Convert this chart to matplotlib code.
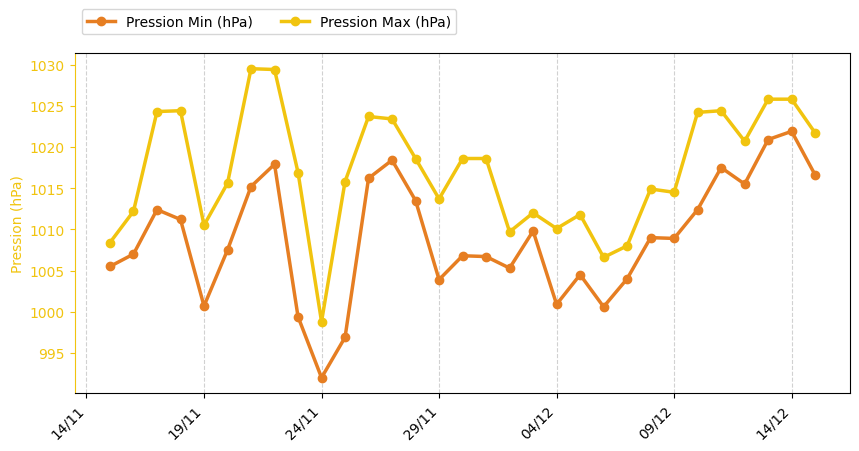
import numpy as np
import pandas as pd
import matplotlib
matplotlib.use('Agg')
import matplotlib.pyplot as plt
import matplotlib.dates as mdates

dates = pd.date_range('2023-11-15', '2023-12-15', freq='D')

p_min = [1005.5, 1007.0, 1012.4, 1011.2, 1000.7, 1007.5, 1015.2, 1017.9, 999.4, 992.0,
         996.9, 1016.2, 1018.4, 1013.5, 1003.9, 1006.8, 1006.7, 1005.3, 1009.8, 1000.9,
         1004.5, 1000.6, 1004.0, 1009.0, 1008.9, 1012.4, 1017.5, 1015.5, 1020.9, 1021.9,
         1016.6]
p_max = [1008.4, 1012.2, 1024.3, 1024.4, 1010.5, 1015.6, 1029.5, 1029.4, 1016.9, 998.8,
         1015.8, 1023.7, 1023.4, 1018.6, 1013.7, 1018.6, 1018.6, 1009.7, 1012.0, 1010.1,
         1011.8, 1006.6, 1008.0, 1014.9, 1014.5, 1024.2, 1024.4, 1020.7, 1025.8, 1025.8,
         1021.7]

tick_dates = pd.date_range('2023-11-14', '2023-12-14', freq='5D')

c_min = '#e67e22'
c_max = '#f1c40f'

fig, ax = plt.subplots(figsize=(8.59, 4.52), dpi=100)
fig.subplots_adjust(left=0.087, right=0.99, top=0.88, bottom=0.128)

ax.plot(dates, p_min, color=c_min, marker='o', lw=2.5, ms=6, label='Pression Min (hPa)')
ax.plot(dates, p_max, color=c_max, marker='o', lw=2.5, ms=6, label='Pression Max (hPa)')

ax.set_ylabel('Pression (hPa)', color=c_max)
ax.tick_params(axis='y', colors=c_max)
ax.spines['left'].set_color(c_max)

ax.set_xticks(tick_dates)
ax.xaxis.set_major_formatter(mdates.DateFormatter('%d/%m'))
plt.setp(ax.get_xticklabels(), rotation=45, ha='right')
ax.grid(axis='x', linestyle='--', color='#cccccc', alpha=0.9)

ax.legend(loc='lower left', bbox_to_anchor=(0, 1.035), ncol=2)

plt.savefig('out.png', dpi=100)
